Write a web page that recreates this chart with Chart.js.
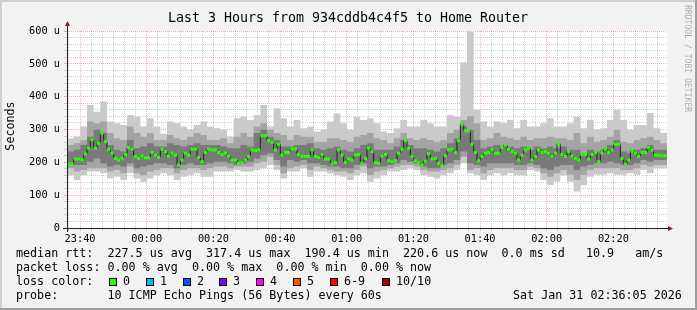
<!DOCTYPE html>
<html>
<head>
<meta charset="utf-8">
<script src="https://cdn.jsdelivr.net/npm/chart.js@4.4.0/dist/chart.umd.min.js"></script>
<style>
  html, body { margin: 0; padding: 0; background: #f2f2f2; }
  #wrap { position: relative; width: 697px; height: 310px; }
</style>
</head>
<body>
<div id="wrap"><canvas id="smokeChart" width="697" height="310"></canvas></div>
<script>
// time range (seconds since 00:00 of Jan 30): 23:36:05 -> 02:36:05
const startTime = 84965;
const endTime = 95765;
const medianStep = 60;   // one median per minute
const smokeStep = 120;   // smoke read every 2 minutes
const minorStep = 200;   // vertical grid spacing
const majorStep = 1200;  // labelled every 20 min

// median rtt in microseconds, one per minute
const medianRtt = [
  195,195,210,210,208,225,243,269,243,258, 289,263,240,228,212,207,212,224,245,240,
  218,212,219,214,214,230,222,215,240,233, 219,228,222,192,207,228,222,240,240,215,
  202,230,240,238,238,230,224,228,219,207, 207,197,200,207,218,238,236,238,281,281,
  266,261,238,255,222,230,230,241,241,224, 219,218,218,238,218,215,224,210,210,195,
  199,238,222,200,210,207,222,224,197,212, 243,233,199,197,219,224,205,202,205,228,
  240,266,243,218,205,200,192,204,226,210, 212,197,191,220,238,240,230,266,317,296,
  296,255,230,205,218,228,230,238,228,228, 245,253,240,233,228,207,222,238,243,207,
  218,238,230,233,228,219,228,255,224,218, 233,219,212,207,224,224,210,224,230,202,
  228,240,230,238,255,255,212,194,207,236, 228,218,230,230,245,237,222,222,220,220
];

// smoke: outer (lightest) band
const lightHigh = [
  273,278,309,375,354,385,324,319,314,344,339,309,334,309,288,
  324,319,309,299,314,324,309,304,299,278,334,339,329,344,375,
  309,365,334,309,329,304,309,294,299,324,349,319,299,339,329,
  334,319,294,289,304,329,309,309,329,319,309,309,344,339,505,
  597,360,324,309,324,319,329,304,329,309,309,319,334,309,309,
  319,339,304,329,299,304,329,360,329,299,314,314,350,304,289
];
const lightLow = [
  161,146,161,172,172,167,151,156,146,167,151,141,151,161,167,
  161,146,156,161,167,156,156,172,172,172,177,172,172,177,182,
  192,177,151,172,172,182,156,172,172,167,161,156,146,161,167,
  141,151,161,172,172,177,182,177,161,156,151,161,167,177,197,
  167,161,146,161,167,161,167,161,161,177,172,146,131,141,161,
  141,111,131,156,162,162,167,162,162,167,162,177,167,182,182
];
// middle band
const midHigh = [
  253,258,268,324,319,324,289,273,268,309,289,278,289,268,268,
  283,273,268,278,289,283,268,268,273,258,278,289,278,309,319,
  299,289,283,268,283,278,278,263,263,273,273,268,263,278,283,
  289,273,268,258,273,289,273,268,273,268,263,268,289,299,329,
  340,319,268,273,289,278,273,268,278,268,273,273,278,273,273,
  268,289,258,278,263,268,278,299,263,258,268,273,278,268,258
];
const midLow = [
  182,172,177,182,182,182,172,177,167,187,167,161,172,177,182,
  182,167,177,182,182,177,182,187,187,182,187,187,187,197,202,
  217,192,167,182,187,192,177,187,182,177,172,172,167,177,187,
  161,172,177,182,187,192,192,187,177,172,172,177,182,192,217,
  177,182,167,177,182,182,182,177,177,187,182,167,156,167,177,
  162,146,162,177,182,182,182,182,177,177,182,192,187,192,192
];
// inner (dark) band
const darkHigh = [
  233,238,253,278,299,289,253,238,233,268,243,248,258,248,248,
  258,253,248,253,258,253,253,253,248,243,243,253,248,289,299,
  278,268,248,248,253,253,258,243,238,243,248,238,233,243,253,
  258,238,238,238,248,268,253,243,243,238,233,243,258,273,309,
  299,268,243,248,253,248,248,243,248,238,248,243,248,243,248,
  238,238,228,238,233,238,253,268,233,228,238,243,253,238,238
];
const darkLow = [
  192,192,192,202,212,197,187,192,187,197,182,187,192,197,197,
  192,182,192,197,192,192,197,202,202,197,192,197,202,212,222,
  228,207,187,207,202,207,197,197,192,187,187,182,182,192,197,
  182,187,187,192,197,207,202,197,187,182,182,192,197,207,233,
  197,192,187,197,197,197,197,192,192,197,192,182,177,187,192,
  192,177,187,192,197,197,202,197,192,192,197,207,202,207,207
];

const yTicks = [0, 100, 200, 300, 400, 500, 600];
const lossLabels = ['0', '1', '2', '3', '4', '5', '6-9', '10/10'];
const lossColors = ['#26ff00', '#00b8ff', '#0059ff', '#7e00ff', '#ff00ff', '#ff5500', '#ff0000', '#a10000'];

const mono = "'DejaVu Sans Mono', monospace";

// value i holds from bin start to the next bin start
function stepPoints(values, step) {
  const pts = values.map((v, i) => ({ x: startTime + i * step, y: v }));
  pts.push({ x: startTime + values.length * step, y: values[values.length - 1] });
  return pts;
}

function band(values, color, order, fill) {
  return {
    data: stepPoints(values, smokeStep),
    stepped: true,
    borderWidth: 0,
    pointRadius: 0,
    backgroundColor: color,
    fill: fill ? '-1' : false,
    order: order
  };
}

function hhmm(v) {
  const t = ((v % 86400) + 86400) % 86400;
  const h = Math.floor(t / 3600), m = Math.floor((t % 3600) / 60);
  return String(h).padStart(2, '0') + ':' + String(m).padStart(2, '0');
}

const frame = {
  id: 'frame',
  beforeDraw(chart) {
    const { ctx, chartArea: a, width, height } = chart;
    ctx.save();
    ctx.fillStyle = '#f2f2f2';
    ctx.fillRect(0, 0, width, height);
    ctx.fillStyle = '#cfcfcf';
    ctx.fillRect(0, 0, width, 2);
    ctx.fillRect(0, 0, 2, height);
    ctx.fillStyle = '#9e9e9e';
    ctx.fillRect(0, height - 2, width, 2);
    ctx.fillRect(width - 2, 0, 2, height);
    ctx.fillStyle = '#ffffff';
    ctx.fillRect(a.left, a.top, a.right - a.left, a.bottom - a.top);
    ctx.restore();
  },
  afterDraw(chart) {
    const { ctx, chartArea: a } = chart;
    ctx.save();
    // axes
    ctx.strokeStyle = '#1f1f1f';
    ctx.lineWidth = 1;
    ctx.beginPath();
    ctx.moveTo(a.left - 4, a.bottom + 0.5);
    ctx.lineTo(a.right + 2, a.bottom + 0.5);
    ctx.moveTo(a.left + 0.5, a.bottom + 4);
    ctx.lineTo(a.left + 0.5, a.top - 6);
    ctx.stroke();
    // arrows
    ctx.fillStyle = '#801f1f';
    ctx.beginPath();
    ctx.moveTo(a.left - 2, a.top - 5);
    ctx.lineTo(a.left + 3, a.top - 5);
    ctx.lineTo(a.left + 0.5, a.top - 10);
    ctx.closePath();
    ctx.fill();
    ctx.beginPath();
    ctx.moveTo(a.right + 1, a.bottom - 2);
    ctx.lineTo(a.right + 1, a.bottom + 3);
    ctx.lineTo(a.right + 6, a.bottom + 0.5);
    ctx.closePath();
    ctx.fill();

    // title
    ctx.fillStyle = '#000';
    ctx.textBaseline = 'middle';
    ctx.textAlign = 'center';
    ctx.font = '13.3px ' + mono;
    ctx.fillText('Last 3 Hours from 934cddb4c4f5 to Home Router', 348, 19);

    // vertical label
    ctx.font = '11.7px ' + mono;
    ctx.save();
    ctx.translate(11, 126);
    ctx.rotate(-Math.PI / 2);
    ctx.fillText('Seconds', 0, 0);
    ctx.restore();

    // watermark
    ctx.save();
    ctx.translate(687, 5);
    ctx.rotate(Math.PI / 2);
    ctx.textAlign = 'left';
    ctx.fillStyle = 'rgba(0,0,0,0.3)';
    ctx.font = '8.1px ' + mono;
    ctx.fillText('RRDTOOL / TOBI OETIKER', 0, 0);
    ctx.restore();

    // legend
    ctx.textAlign = 'left';
    ctx.font = '11.7px ' + mono;
    ctx.fillText('median rtt:  227.5 us avg  317.4 us max  190.4 us min  220.6 us now  0.0 ms sd   10.9   am/s', 16, 254);
    ctx.fillText('packet loss: 0.00 % avg  0.00 % max  0.00 % min  0.00 % now', 16, 268);
    ctx.fillText('loss color:', 16, 282);
    const boxX = [109, 146, 183, 219, 256, 293, 330, 382];
    lossLabels.forEach((lab, i) => {
      ctx.fillStyle = lossColors[i];
      ctx.fillRect(boxX[i], 278, 8, 8);
      ctx.strokeStyle = '#000';
      ctx.strokeRect(boxX[i] + 0.5, 278.5, 7, 7);
      ctx.fillStyle = '#000';
      ctx.fillText(lab, boxX[i] + 14, 282);
    });
    ctx.fillText('probe:       10 ICMP Echo Pings (56 Bytes) every 60s', 16, 296);
    ctx.fillText('Sat Jan 31 02:36:05 2026', 513, 296);
    ctx.restore();
  }
};

const minorGrid = 'rgba(150,150,150,0.45)';
const majorGrid = 'rgba(222,79,79,0.42)';

new Chart(document.getElementById('smokeChart').getContext('2d'), {
  type: 'line',
  data: {
    datasets: [
      band(lightLow, '#cacaca', 8, false),
      band(lightHigh, '#cacaca', 7, true),
      band(midLow, '#a4a4a4', 6, false),
      band(midHigh, '#a4a4a4', 5, true),
      band(darkLow, '#7a7a7a', 4, false),
      band(darkHigh, '#7a7a7a', 3, true),
      {
        data: stepPoints(medianRtt, medianStep),
        stepped: true,
        borderColor: '#202020',
        borderWidth: 1,
        pointRadius: 0,
        fill: false,
        order: 2
      },
      {
        data: medianRtt.map((v, i) => ({ x: startTime + i * medianStep + medianStep / 2, y: v })),
        showLine: false,
        pointStyle: 'line',
        pointRadius: 1.67,
        pointBorderWidth: 3,
        pointBorderColor: lossColors[0],
        fill: false,
        order: 1
      }
    ]
  },
  options: {
    responsive: false,
    animation: false,
    events: [],
    layout: { padding: { top: 31, right: 30, left: 0, bottom: 0 } },
    plugins: { legend: { display: false }, tooltip: { enabled: false }, title: { display: false } },
    scales: {
      x: {
        type: 'linear',
        min: startTime,
        max: endTime,
        z: 1,
        afterFit: s => { s.height = 82; },
        afterBuildTicks: s => {
          const t = [];
          for (let v = Math.ceil(startTime / minorStep) * minorStep; v < endTime; v += minorStep) t.push({ value: v });
          s.ticks = t;
        },
        border: { display: false, dash: [1, 1] },
        grid: {
          color: c => (c.tick && c.tick.value % majorStep === 0) ? majorGrid : minorGrid,
          tickColor: c => (c.tick && c.tick.value % majorStep === 0) ? majorGrid : minorGrid,
          tickLength: 3,
          drawTicks: true
        },
        ticks: {
          autoSkip: false,
          maxRotation: 0,
          padding: 2,
          color: '#000',
          font: { family: mono, size: 10.3 },
          callback: v => (v % majorStep === 0) ? hhmm(v) : ''
        }
      },
      y: {
        min: 0,
        max: 600,
        z: 1,
        afterFit: s => { s.width = 67; },
        border: { display: false, dash: [1, 1] },
        grid: {
          color: c => (c.tick && yTicks.includes(c.tick.value)) ? majorGrid : minorGrid,
          tickColor: c => (c.tick && yTicks.includes(c.tick.value)) ? majorGrid : minorGrid,
          tickLength: 3
        },
        ticks: {
          stepSize: 20,
          autoSkip: false,
          maxTicksLimit: 1000,
          padding: 4,
          color: '#000',
          font: { family: mono, size: 10.3 },
          callback: v => yTicks.includes(v) ? (v === 0 ? '0' : v + ' u') : ''
        }
      }
    }
  },
  plugins: [frame]
});
</script>
</body>
</html>
